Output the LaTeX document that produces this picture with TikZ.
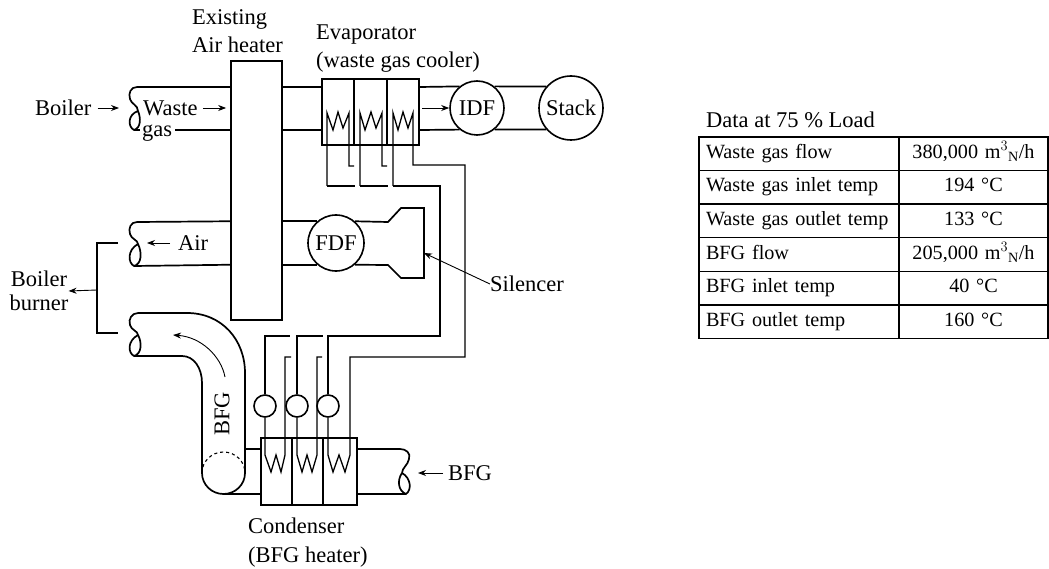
\documentclass[tikz,border=0pt]{standalone}
\usepackage{fontspec}
\setmainfont{Liberation Serif}
\usetikzlibrary{arrows.meta}
\tikzset{
    lbl/.style={inner sep=0pt,align=left,font=\fontsize{22.5}{28.5}\selectfont},
    pipe/.style={line width=1.7pt},
    lead/.style={line width=1.3pt},
    flow/.style={line width=0.9pt,-{Stealth[length=8pt,width=6pt]}},
    vessel/.style={draw,line width=1.7pt,inner sep=0pt},
    fan/.style={circle,draw,line width=1.6pt,fill=white,inner sep=0pt,font=\fontsize{22.5}{24}\selectfont},
    pump/.style={circle,draw,line width=1.6pt,fill=white,inner sep=0pt,minimum size=22pt},
    cella/.style={draw,line width=1.4pt,inner sep=0pt,inner xsep=7pt,text width=186pt,align=left,minimum height=33.6pt,text height=14pt,text depth=5pt,font=\fontsize{20.2}{22}\selectfont},
    cellb/.style={draw,line width=1.4pt,inner sep=0pt,text width=149pt,align=center,minimum height=33.6pt,text height=14pt,text depth=5pt,font=\fontsize{20.2}{22}\selectfont}
}
\begin{document}
\begin{tikzpicture}[x=1pt,y=-1pt]
                \useasboundingbox (0,0) rectangle (1049,569);
                \node[vessel,minimum width=51pt,minimum height=259pt] (heater) at(256.5,190.5){};
                \node[vessel,minimum width=97pt,minimum height=66pt] (evap) at(370.5,112){};
                \node[vessel,minimum width=96pt,minimum height=67pt] (cond) at(309,471.5){};
                \node[fan,minimum size=54pt] (idf) at(477,108){IDF};
                \node[fan,minimum size=64pt] (stack) at(571,108){Stack};
                \node[fan,minimum size=56pt] (fdf) at(336,243){FDF};
                \node[pump] (pump1) at(265,406){};
                \node[pump] (pump2) at(297,406){};
                \node[pump] (pump3) at(328,406){};
                \node[lbl,anchor=west] (boiler) at(35,108){Boiler};
                \node[lbl,anchor=west] (waste) at(143,108){Waste};
                \node[lbl,anchor=west] (gas) at(142,133){gas};
                \node[lbl,anchor=west] (existing) at(192,31){Existing\\Air heater};
                \node[lbl,anchor=west] (evaplabel) at(316,48.5){Evaporator\\(waste gas cooler)};
                \node[lbl,anchor=west] (air) at(178,243){Air};
                \node[lbl,align=center,font=\fontsize{22.5}{24}\selectfont] (burner) at(39,291){Boiler\\burner};
                \node[lbl] (silencer) at(527,284){Silencer};
                \node[lbl,rotate=90] (bfgup) at(222,414){BFG};
                \node[lbl,anchor=west] (bfgin) at(448,473){BFG};
                \node[lbl,anchor=west] (condlabel) at(248,542.5){Condenser\\(BFG heater)};
                \node[lbl,anchor=west] (title) at(706,120){Data at 75 \% Load};
                \node[cella] (a1) at(799,153.8){Waste gas flow};
                \node[cella] (a2) at(799,187.4){Waste gas inlet temp};
                \node[cella] (a3) at(799,221){Waste gas outlet temp};
                \node[cella] (a4) at(799,254.6){BFG flow};
                \node[cella] (a5) at(799,288.2){BFG inlet temp};
                \node[cella] (a6) at(799,321.8){BFG outlet temp};
                \node[cellb] (b1) at(973.5,153.8){380,000 m$^{3}{}_{\mathrm{N}}$/h};
                \node[cellb] (b2) at(973.5,187.4){194 °C};
                \node[cellb] (b3) at(973.5,221){133 °C};
                \node[cellb] (b4) at(973.5,254.6){205,000 m$^{3}{}_{\mathrm{N}}$/h};
                \node[cellb] (b5) at(973.5,288.2){40 °C};
                \node[cellb] (b6) at(973.5,321.8){160 °C};
                \coordinate (wtop) at(0,87);
                \coordinate (wbot) at(0,130);
                \coordinate (wgap) at(175,130);
                \coordinate (cup) at(0,449);
                \coordinate (clow) at(0,494);
                \coordinate (boilertip) at(119,108);
                \coordinate (airtip) at(147,243);
                \coordinate (bfgtip) at(418,473);
                \coordinate (siltip) at(424,253);
                \coordinate (idfarrow) at(422,108);
                \coordinate (junction) at(97,290);
                \coordinate (burnerup) at(118,243);
                \coordinate (burnerlow) at(118,333);
                % pipes
                \draw[pipe] (heater.west |- wtop) -- (137,87) .. controls (131,87) and (128,93) .. (130,99) .. controls (131,104) and (138,105) .. (138,111) .. controls (141,118) and (141,128) .. (134,130) .. controls (128,127) and (127,115) .. (138,111);
                \draw[pipe] (134,130) -- (140,130);
                \draw[pipe] (heater.west |- wgap) -- (wgap);
                \draw[pipe] (heater.east |- wtop) -- (evap.west |- wtop);
                \draw[pipe] (heater.east |- wbot) -- (evap.west |- wbot);
                \draw[pipe] (evap.east |- wtop) -- (idf.129);
                \draw[pipe] (evap.east |- wbot) -- (idf.231);
                \draw[pipe] (idf.51) -- (stack.139);
                \draw[pipe] (idf.309) -- (stack.221);
                \draw[pipe] (heater.west |- fdf.131) -- (137,222) .. controls (131,222) and (128,228) .. (130,234) .. controls (131,239) and (138,240) .. (138,244) .. controls (142,252) and (142,264) .. (134,266) .. controls (128,263) and (127,250) .. (138,244);
                \draw[pipe] (134,266) -- (heater.west |- fdf.229);
                \draw[pipe] (heater.east |- fdf.131) -- (fdf.131);
                \draw[pipe] (heater.east |- fdf.229) -- (fdf.229);
                \draw[pipe] (fdf.49) -- (388,222) -- (401,208) -- (424,208) -- (424,278) -- (401,278) -- (388,265) -- (fdf.311);
                \draw[pipe] (187,313) -- (138,313) .. controls (132,313) and (128,319) .. (130,325) .. controls (131,330) and (138,331) .. (138,335) .. controls (142,342) and (142,354) .. (134,356) .. controls (128,353) and (127,341) .. (138,335);
                \draw[pipe] (134,356) -- (182,356) .. controls (194,356) and (202,368) .. (202,383) -- (202,473);
                \draw[pipe] (187,313) .. controls (222,313) and (245,340) .. (245,373) -- (245,473);
                \draw[pipe] (202,473) arc (180:360:21.5 and -21);
                \draw[line width=1.1pt,dashed] (202,473) arc (180:0:21.5 and -21);
                \draw[pipe] (cond.west |- cup) -- (245,449);
                \draw[pipe] (cond.west |- clow) -- (223,494);
                \draw[pipe] (cond.east |- cup) -- (400,449) .. controls (406,449) and (411,453) .. (409,459) .. controls (408,465) and (402,468) .. (402,473) .. controls (397,480) and (398,491) .. (406,494) .. controls (412,490) and (411,478) .. (402,473);
                \draw[pipe] (cond.east |- clow) -- (406,494);
                % evaporator
                \draw[lead] (354,79) -- (354,145);
                \draw[lead] (387,79) -- (387,145);
                \draw[lead] (327,186) -- (327,113) -- (333,130) -- (338,112) -- (343,128) -- (349,113) -- (349,166) -- (354,166);
                \draw[lead] (360,186) -- (360,113) -- (365,130) -- (371,112) -- (376,128) -- (382,113) -- (382,166) -- (387,166);
                \draw[lead] (393,186) -- (393,113) -- (398,130) -- (403,112) -- (408,128) -- (413,113) -- (413,165) -- (465,165) -- (465,357) -- (350,357) -- (350,455) -- (345,472) -- (339,455) -- (333,472) -- (328,455) -- (pump3.south);
                \draw[lead] (327,186) -- (355,186);
                \draw[lead] (360,186) -- (388,186);
                \draw[lead] (393,186) -- (440,186) -- (440,336) -- (328,336) -- (pump3.north);
                % condenser
                \draw[lead] (292,438) -- (292,505);
                \draw[lead] (323,438) -- (323,505);
                \draw[lead] (pump1.north) -- (265,336) -- (290,336);
                \draw[lead] (pump2.north) -- (297,336) -- (323,336);
                \draw[lead] (pump1.south) -- (265,455) -- (271,472) -- (276,455) -- (281,472) -- (285,455) -- (285,357) -- (291,357);
                \draw[lead] (pump2.south) -- (297,455) -- (302,472) -- (307,455) -- (312,472) -- (317,455) -- (317,357) -- (322,357);
                % arrows
                \draw[flow,shorten <=6pt] (boiler.east) -- (boilertip);
                \draw[flow,shorten <=5pt,shorten >=4pt] (waste.east) -- (heater.west |- waste.east);
                \draw[flow] (idfarrow) -- (idf.west);
                \draw[flow,shorten <=8pt] (air.west) -- (airtip);
                \draw[flow,shorten <=5pt] (bfgin.west) -- (bfgtip);
                \draw[flow] (silencer.west) -- (siltip);
                \draw[flow] (junction) -- (burner.east);
                \draw[lead] (burnerup) -- (97,243) -- (97,333) -- (burnerlow);
                \draw[flow] (225,377) .. controls (221,356) and (201,337) .. (173,335);
\end{tikzpicture}
\end{document}
